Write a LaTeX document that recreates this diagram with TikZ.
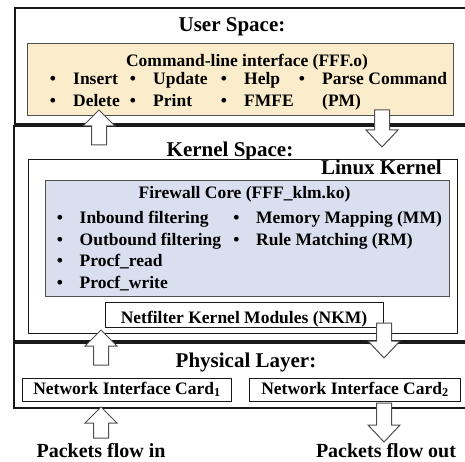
\documentclass[tikz,border=0pt]{standalone}
\usepackage{fontspec}
\setmainfont{Liberation Serif}
\usetikzlibrary{positioning}
\definecolor{sand}{RGB}{251,236,203}
\definecolor{mist}{RGB}{218,223,240}
\definecolor{ink}{RGB}{25,25,25}
\definecolor{rim}{RGB}{80,80,80}
\tikzset{
  layer/.style={draw=ink,line width=2pt},
  inbox/.style={draw=rim,line width=0.9pt,fill=#1},
  inbox/.default=white,
  head/.style={font=\fontsize{21}{24}\selectfont\bfseries,inner sep=0pt,anchor=base},
  txt/.style={font=\fontsize{17.5}{20}\selectfont\bfseries,inner sep=0pt,anchor=base west},
  dot/.style={font=\fontsize{17.5}{20}\selectfont\bfseries,inner sep=0pt,anchor=base},
  % block arrows, drawn from the tip
  pics/fat up/.style={code={
    \draw[rim,fill=white,line width=1pt] (0,0) -- (16,16) -- (7.5,16) -- (7.5,#1)
      -- (-7.5,#1) -- (-7.5,16) -- (-16,16) -- cycle;
  }},
  pics/fat down/.style={code={
    \draw[rim,fill=white,line width=1pt] (0,0) -- (16,-17) -- (7.5,-17) -- (7.5,-#1)
      -- (-7.5,-#1) -- (-7.5,-17) -- (-16,-17) -- cycle;
  }},
}

\begin{document}
\begin{tikzpicture}[x=1pt,y=-1pt]
  \useasboundingbox (0,0) rectangle (465,462);
  % layers
  \draw[layer] (15,8) rectangle (480,124.5);
  \draw[layer] (14,126.5) rectangle (480,341);
  \draw[layer] (14,343) rectangle (480,408);
  \node[head] (user) at (232,32) {User Space:};
  \node[head] (kern) at (230,157) {Kernel Space:};
  \node[head] (phys) at (246,367) {Physical Layer:};

  % user space
  \draw[inbox=sand] (27,43) rectangle (453,115);
  \node[txt,anchor=base] (cli) at (247,67) {Command-line interface (FFF.o)};
  \foreach \n/\x/\y/\t in {1/53/85/Insert,2/133/85/Update,3/224/85/Help,4/302/85/Parse Command,
                           5/53/106.5/Delete,6/133/106.5/Print,7/224/106.5/FMFE}{
    \node[dot] (cb\n) at (\x,\y) {\textbullet};
    \node[txt] (ci\n) at (\x+20,\y) {\t};
  }
  \node[txt] (pm) at (322,106.5) {(PM)};

  % kernel space
  \draw[inbox,draw=ink] (28,159) rectangle (457,333);
  \node[head,anchor=base east] (linux) at (442,175) {Linux Kernel};
  \draw[inbox=mist] (45,180) rectangle (449,296.5);
  \node[txt,anchor=base] (core) at (244.5,199) {Firewall Core (FFF\_klm.ko)};
  \foreach \n/\x/\y/\t in {1/60/223.5/Inbound filtering,2/60/245/Outbound filtering,
                           3/60/266.5/Procf\_read,4/60/288/Procf\_write,
                           5/236.5/223.5/Memory Mapping (MM),6/236.5/245/Rule Matching (RM)}{
    \node[dot] (fb\n) at (\x,\y) {\textbullet};
    \node[txt] (fi\n) at (\x+19.5,\y) {\t};
  }
  \draw[inbox,draw=ink] (105,302) rectangle (383,327);
  \node[txt,anchor=base] (nkm) at (244,323.5) {Netfilter Kernel Modules (NKM)};

  % physical layer
  \draw[inbox,draw=ink] (22,378) rectangle (231.5,401.5);
  \draw[inbox,draw=ink] (249.5,378) rectangle (460,401.5);
  \node[txt,anchor=base] (nic1) at (127,394) {Network Interface Card\textsubscript{1}};
  \node[txt,anchor=base] (nic2) at (355,394) {Network Interface Card\textsubscript{2}};

  % flows
  \pic at (99,110) {fat up=35};
  \pic at (101,330) {fat up=35};
  \pic at (101,407) {fat up=31};
  \pic at (382,147) {fat down=37};
  \pic at (384,358) {fat down=35};
  \pic at (384,442) {fat down=39};
  \node[head,font=\fontsize{20}{24}\selectfont\bfseries] (pin) at (101,457) {Packets flow in};
  \node[head,font=\fontsize{20}{24}\selectfont\bfseries] (pout) at (386,457) {Packets flow out};
\end{tikzpicture}
\end{document}
